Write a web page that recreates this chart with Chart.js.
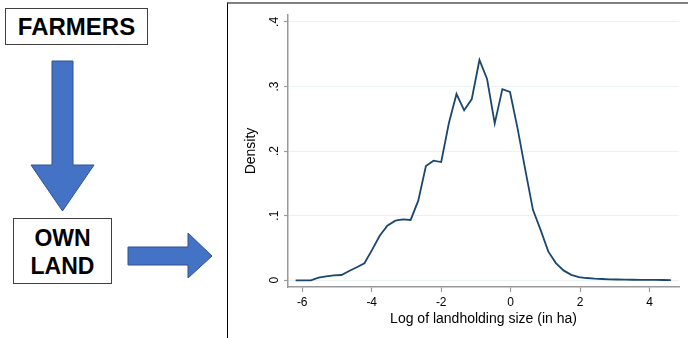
<!DOCTYPE html>
<html>
<head>
    <title>Land density</title>
    <style>
        body {
            margin: 0;
            width: 688px;
            height: 338px;
            background: white;
            position: relative;
            overflow: hidden;
            font-family: "Liberation Sans", Arial, sans-serif;
        }

        /* caixas da esquerda */
        .caixa {
            position: absolute;
            box-sizing: border-box;
            border: 1px solid #404040;
            background: white;
            color: #000;
            font-weight: bold;
            font-size: 23px;
            text-align: center;
        }

        #farmers {
            left: 5px;
            top: 8px;
            width: 143px;
            height: 37px;
            line-height: 35px;
            font-size: 24px;
        }

        #ownland {
            left: 13px;
            top: 218px;
            width: 99px;
            height: 66px;
            line-height: 28px;
            padding-top: 5px;
        }

        #setas {
            position: absolute;
            left: 0;
            top: 0;
        }

        /* moldura do grafico */
        .moldura {
            position: absolute;
            left: 227px;
            top: 2px;
            width: 461px;
            height: 334px;
            border-left: 1.5px solid #000;
            border-top: 2px solid #808080;
        }

        #grafico {
            position: absolute;
            left: 230px;
            top: 0;
        }
    </style>
</head>
<body>
    <div class="caixa" id="farmers">FARMERS</div>
    <div class="caixa" id="ownland">OWN<br>LAND</div>

    <svg id="setas" width="230" height="338">
        <polygon points="52,61 73,61 73,165 94,165 62.5,211 31,165 52,165"
            fill="#4472C4" stroke="#2F528F" stroke-width="1" />
        <polygon points="128,247 188,247 188,233 212,256 188,278 188,265 128,265"
            fill="#4472C4" stroke="#2F528F" stroke-width="1" />
    </svg>

    <div class="moldura"></div>
    <canvas id="grafico" width="458" height="338"></canvas>

    <script src="https://cdn.jsdelivr.net/npm/chart.js"></script>
    <script>
        // pontos da densidade
        const xVals = [-6.19, -5.97, -5.75, -5.53, -5.31, -5.09, -4.87, -4.65, -4.43, -4.21,
            -3.99, -3.77, -3.55, -3.32, -3.10, -2.88, -2.66, -2.44, -2.22, -2.00,
            -1.78, -1.56, -1.34, -1.12, -0.90, -0.68, -0.46, -0.24, -0.02, 0.20,
            0.42, 0.64, 0.86, 1.08, 1.30, 1.52, 1.74, 1.96, 2.18, 2.41,
            2.63, 2.85, 3.07, 3.29, 3.51, 3.73, 3.95, 4.17, 4.39, 4.61];
        const densidade = [0, 0, 0, 0.004, 0.006, 0.0077, 0.0082, 0.0144, 0.0201, 0.0263,
            0.047, 0.069, 0.0845, 0.0922, 0.0944, 0.0934, 0.1232, 0.177, 0.1851, 0.1831,
            0.243, 0.2884, 0.2632, 0.2806, 0.341, 0.3116, 0.243, 0.296, 0.2915, 0.2344,
            0.171, 0.109, 0.078, 0.0447, 0.0266, 0.0153, 0.0085, 0.005, 0.0035, 0.0025,
            0.002, 0.0015, 0.0012, 0.001, 0.0008, 0.0007, 0.0006, 0.0005, 0.0004, 0.0003];

        const xTicks = [-6, -4, -2, 0, 2, 4];
        const xTickLabels = ['-6', '-4', '-2', '0', '2', '4'];
        const yTicks = [0, 0.1, 0.2, 0.3, 0.4];
        const yTickLabels = ['0', '.1', '.2', '.3', '.4'];

        const fonte = '"Liberation Sans", Arial, sans-serif';
        const corEixo = '#999999';

        let pontos = [];
        for (let i = 0; i < xVals.length; i++) {
            pontos.push({ x: xVals[i], y: densidade[i] });
        }

        const ctx = document.getElementById('grafico').getContext('2d');

        const grafico = new Chart(ctx, {
            type: 'line',
            data: {
                datasets: [{
                    label: 'Density',
                    data: pontos,
                    borderColor: '#1a476f',
                    borderWidth: 1.8,
                    pointRadius: 0,
                    tension: 0,
                    fill: false
                }]
            },
            options: {
                responsive: false,
                animation: false,
                layout: { padding: { left: 0, right: 9, top: 15, bottom: 0 } },
                plugins: {
                    legend: { display: false },
                    tooltip: { enabled: false }
                },
                scales: {
                    x: {
                        type: 'linear',
                        min: -6.409,
                        max: 4.843,
                        afterBuildTicks: function (s) {
                            s.ticks = xTicks.map(v => ({ value: v }));
                        },
                        afterFit: function (s) { s.height = 51; },
                        grid: {
                            drawOnChartArea: false,
                            tickLength: 5,
                            tickColor: corEixo,
                            tickWidth: 1.2
                        },
                        border: { color: corEixo, width: 1.5 },
                        ticks: {
                            padding: 3,
                            color: '#000',
                            font: { family: fonte, size: 12 },
                            maxRotation: 0,
                            callback: function (v) {
                                const i = xTicks.indexOf(v);
                                return i >= 0 ? xTickLabels[i] : '';
                            }
                        },
                        title: {
                            display: true,
                            text: 'Log of landholding size (in ha)',
                            color: '#000',
                            font: { family: fonte, size: 14 },
                            padding: { top: 10, bottom: 10 }
                        }
                    },
                    y: {
                        min: -0.0104,
                        max: 0.4107,
                        afterBuildTicks: function (s) {
                            s.ticks = yTicks.map(v => ({ value: v }));
                        },
                        afterFit: function (s) { s.width = 58; },
                        grid: {
                            color: '#eaf2f3',
                            lineWidth: 1,
                            tickLength: 4,
                            tickColor: corEixo,
                            tickWidth: 1.2
                        },
                        border: { color: corEixo, width: 1.5 },
                        ticks: {
                            minRotation: 90,
                            maxRotation: 90,
                            crossAlign: 'center',
                            padding: 4,
                            color: '#000',
                            font: { family: fonte, size: 12 },
                            callback: function (v) {
                                const i = yTicks.indexOf(v);
                                return i >= 0 ? yTickLabels[i] : '';
                            }
                        },
                        title: {
                            display: true,
                            text: 'Density',
                            color: '#000',
                            font: { family: fonte, size: 14 },
                            padding: { top: 13, bottom: 13 }
                        }
                    }
                }
            }
        });
    </script>
</body>
</html>
